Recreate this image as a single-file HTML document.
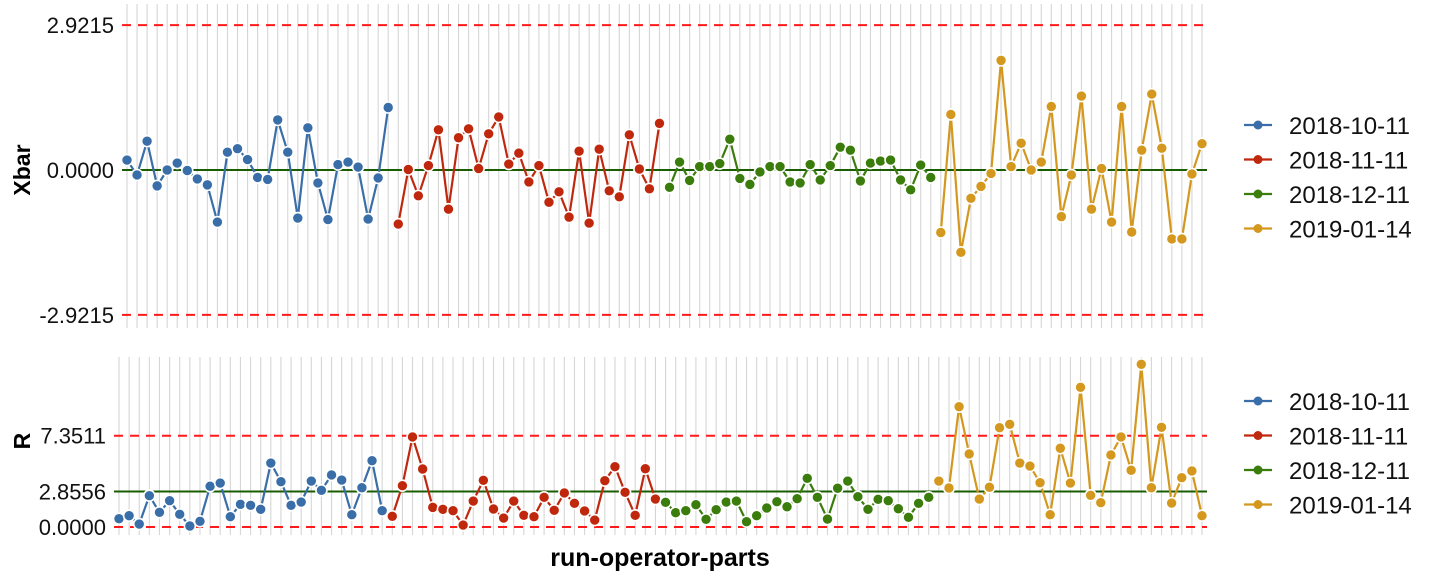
<!DOCTYPE html>
<html><head><meta charset="utf-8">
<style>
body{margin:0;background:#fff;}
svg{display:block;font-family:"Liberation Sans",sans-serif;}
</style></head>
<body>
<svg id="chart" width="1440" height="576">
  <g id="top"></g>
  <g id="bot"></g>
  <text x="30" y="170" transform="rotate(-90 30 170)" text-anchor="middle" font-size="23" font-weight="bold">Xbar</text>
  <text x="30" y="441" transform="rotate(-90 30 441)" text-anchor="middle" font-size="23" font-weight="bold">R</text>
  <text x="660" y="566" text-anchor="middle" font-size="25" font-weight="bold">run-operator-parts</text>
</svg>
<script>
const groups = ["2018-10-11","2018-11-11","2018-12-11","2019-01-14"];
const colors = ["#3a6ea8","#c0280e","#3b7d0c","#d4981e"];
const xbarBlue = [0.20,-0.10,0.58,-0.32,0,0.14,-0.01,-0.18,-0.30,-1.05,0.36,0.43,0.21,-0.15,-0.19,1.01,0.36,-0.97,0.85,-0.26,-1.00,0.11,0.16,0.06,-0.99,-0.16,1.26];
const xbarRed = [-1.09,0.01,-0.52,0.09,0.81,-0.79,0.65,0.83,0.03,0.73,1.07,0.12,0.34,-0.24,0.09,-0.65,-0.44,-0.95,0.38,-1.07,0.42,-0.42,-0.54,0.71,0.02,-0.38,0.94];
const xbarGreen = [-0.35,0.16,-0.21,0.07,0.07,0.13,0.62,-0.17,-0.29,-0.04,0.07,0.07,-0.24,-0.26,0.11,-0.20,0.09,0.46,0.40,-0.22,0.14,0.18,0.20,-0.20,-0.40,0.10,-0.15];
const xbarOrange = [-1.26,1.12,-1.66,-0.57,-0.33,-0.07,2.21,0.07,0.54,0,0.16,1.28,-0.94,-0.10,1.49,-0.79,0.03,-1.05,1.28,-1.25,0.40,1.53,0.44,-1.39,-1.39,-0.08,0.53];
const rBlue = [0.67,0.91,0.24,2.52,1.18,2.12,1.02,0.08,0.46,3.28,3.54,0.83,1.83,1.75,1.42,5.15,3.65,1.75,2.01,3.70,2.95,4.19,3.78,0.99,3.16,5.34,1.31];
const rRed = [0.86,3.33,7.25,4.67,1.58,1.42,1.31,0.16,2.09,3.76,1.45,0.72,2.09,0.94,0.83,2.39,1.34,2.74,1.91,1.29,0.56,3.73,4.86,2.79,0.94,4.69,2.25];
const rGreen = [1.99,1.15,1.31,1.80,0.62,1.39,2.01,2.09,0.43,0.91,1.53,2.04,1.63,2.28,3.92,2.39,0.64,3.12,3.70,2.44,1.42,2.23,2.12,1.47,0.78,1.91,2.39];
const rOrange = [3.70,3.14,9.69,5.88,2.25,3.20,8.00,8.27,5.15,4.91,3.57,0.99,6.34,3.54,11.25,2.55,1.96,5.80,7.25,4.57,13.10,3.16,8.03,1.93,3.97,4.51,0.91];
const xbarTicks = ["2.9215","0.0000","-2.9215"];
const xbarTickVals = [2.9215,0,-2.9215];
const rTicks = ["7.3511","2.8556","0.0000"];
const rTickVals = [7.3511,2.8556,0];
const xbarLimits = {ucl:2.9215, cl:0, lcl:-2.9215};
const rLimits = {ucl:7.3511, cl:2.8556, lcl:0};

const NS="http://www.w3.org/2000/svg";
function mk(parent,tag,attrs){const e=document.createElementNS(NS,tag);for(const k in attrs)e.setAttribute(k,attrs[k]);parent.appendChild(e);return e;}

function drawPanel(g, series, lim, ticks, tickVals, cfg){
  const n = series.reduce((a,s)=>a+s.length,0);
  const xs = i => cfg.x0 + i*(cfg.x1-cfg.x0)/(n-1);
  const ys = v => cfg.yZero - v*cfg.scale;
  for(let i=0;i<n;i++){
    const l=mk(g,'line',{x1:xs(i),x2:xs(i),y1:cfg.top,y2:cfg.bottom,stroke:'#d6d6d6','stroke-width':1.1});
    
    
  }
  [['ucl',lim.ucl],['lcl',lim.lcl]].forEach(([nm,v])=>{
    const l=mk(g,'line',{x1:cfg.left,x2:cfg.right,y1:ys(v),y2:ys(v),stroke:'#ff1a1a','stroke-width':2,'stroke-dasharray':'9 7'});
    
    
  });
  const cl=mk(g,'line',{x1:cfg.left,x2:cfg.right,y1:ys(lim.cl),y2:ys(lim.cl),stroke:'#1a5c00','stroke-width':2});
  
  
  ticks.forEach((t,k)=>{
    const tx=mk(g,'text',{x:cfg.left-8,y:ys(tickVals[k])+8,'text-anchor':'end','font-size':22,fill:'#111'});
    tx.textContent=t;
    
    
  });
  let idx=0;
  series.forEach((s,si)=>{
    const pts=s.map((v,j)=>[xs(idx+j),ys(v)]);
    const pl=mk(g,'polyline',{points:pts.map(p=>p.join(',')).join(' '),fill:'none',stroke:colors[si],'stroke-width':2.2,'stroke-linejoin':'round'});
    
    
    pts.forEach(p=>{
      const c=mk(g,'circle',{cx:p[0],cy:p[1],r:5.5,fill:colors[si],stroke:'#fff','stroke-width':1.6});
      
      
    });
    idx+=s.length;
  });
  groups.forEach((gname,k)=>{
    const y=cfg.legY+k*34.5;
    const ln=mk(g,'line',{x1:1244,x2:1272,y1:y,y2:y,stroke:colors[k],'stroke-width':2.2});
    
    
    const c=mk(g,'circle',{cx:1258,cy:y,r:4.5,fill:colors[k]});
    
    
    const t=mk(g,'text',{x:1289,y:y+9,'font-size':24,fill:'#111'});
    t.textContent=gname;
    
    
  });
}
drawPanel(document.getElementById('top'),[xbarBlue,xbarRed,xbarGreen,xbarOrange],xbarLimits,xbarTicks,xbarTickVals,
  {x0:127,x1:1202,left:122,right:1207,top:4,bottom:328,yZero:170,scale:49.6,legY:125});
drawPanel(document.getElementById('bot'),[rBlue,rRed,rGreen,rOrange],rLimits,rTicks,rTickVals,
  {x0:119,x1:1202,left:114,right:1207,top:357,bottom:535,yZero:527,scale:12.42,legY:401});
</script>
</body></html>
